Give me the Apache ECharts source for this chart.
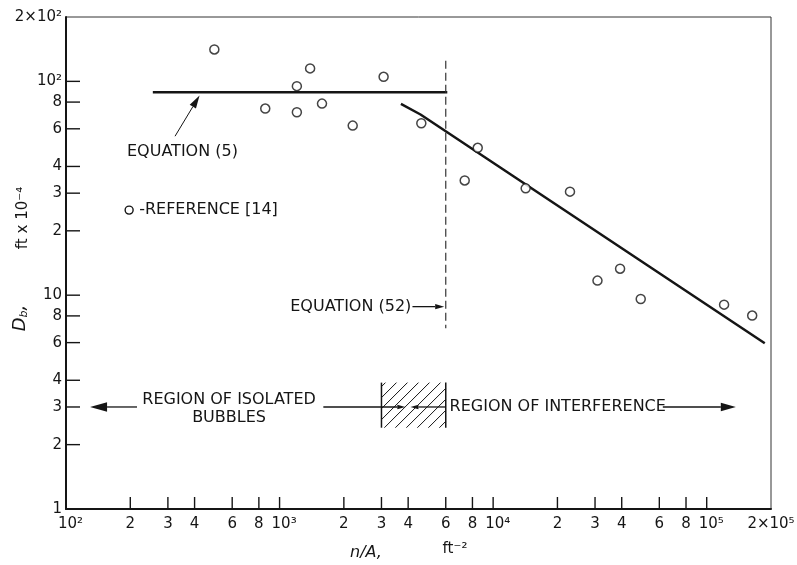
<!DOCTYPE html>
<html><head><meta charset="utf-8">
<script src="https://cdn.jsdelivr.net/npm/echarts@6/dist/echarts.min.js"></script>
<style>html,body{margin:0;padding:0;background:#fff}#c{width:797px;height:565px}</style>
</head><body><div id="c"></div>
<script>
// ---- data ----
const refX = [495, 1390, 1205, 3070, 857, 1205, 1580, 2200, 4610, 8470, 7360, 14200, 22900, 30800, 39300, 49100, 120600, 163300];
const refY = [141, 115, 95, 105, 74.6, 71.7, 78.7, 62.1, 63.7, 48.9, 34.4, 31.6, 30.5, 11.7, 13.3, 9.6, 9.03, 8.03];
const eq5X = [255, 6100];
const eq5Y = [88.9, 88.9];
const eq52X = [3700, 4570, 187000];
const eq52Y = [78.4, 70.0, 5.96];
const limitX = [6000, 6000];
const limitY = [125, 7];
const bandX = [3000, 6000];
const bandY = [2.4, 3.9];
const xTicks = [100, 200, 300, 400, 600, 800, 1000, 2000, 3000, 4000, 6000, 8000, 10000, 20000, 30000, 40000, 60000, 80000, 100000, 200000];
const xTickLabels = ['10²', '2', '3', '4', '6', '8', '10³', '2', '3', '4', '6', '8', '10⁴', '2', '3', '4', '6', '8', '10⁵', '2×10⁵'];
const yTicks = [1, 2, 3, 4, 6, 8, 10, 20, 30, 40, 60, 80, 100, 200];
const yTickLabels = ['1', '2', '3', '4', '6', '8', '10', '2', '3', '4', '6', '8', '10²', '2×10²'];
// annotation anchors (data space)
const noteText = ['EQUATION (5)', '-REFERENCE [14]', 'EQUATION (52)', 'REGION OF ISOLATED\nBUBBLES', 'REGION OF INTERFERENCE'];
const noteX = [193, 220, 1122, 580, 6250];
const noteY = [46.7, 25.0, 8.84, 2.94, 3.0];
const noteAlign = ['left', 'left', 'left', 'center', 'left'];
const arrowFrom = [[324, 55.4], [4190, 8.84], [215, 3], [1603, 3], [6000, 3], [62300, 3]];
const arrowTo = [[422, 85.8], [5900, 8.84], [129.6, 3], [3880, 3], [4100, 3], [136900, 3]];
const arrowHead = [13, 9, 17, 8, 8, 15];

const FONT = 'DejaVu Sans';
const INK = '#151515';
const xMin = 100, xMax = 200000, yMin = 1, yMax = 200;

const chart = echarts.init(document.getElementById('c'), null, {renderer: 'canvas'});

function zip(a, b) { return a.map((v, i) => [v, b[i]]); }

const option = {
  animation: false,
  backgroundColor: '#fff',
  grid: {left: 66, right: 26, top: 17, bottom: 56, show: true, borderColor: '#333', borderWidth: 1, backgroundColor: 'transparent'},
  xAxis: {type: 'log', logBase: 10, min: xMin, max: xMax,
    axisLine: {show: true, onZero: false, lineStyle: {color: INK, width: 2}},
    axisTick: {show: false}, axisLabel: {show: false}, splitLine: {show: false}, minorTick: {show: false}},
  yAxis: {type: 'log', logBase: 10, min: yMin, max: yMax,
    axisLine: {show: true, onZero: false, lineStyle: {color: INK, width: 2}},
    axisTick: {show: false}, axisLabel: {show: false}, splitLine: {show: false}, minorTick: {show: false}},
  series: [
    {type: 'line', data: zip(eq5X, eq5Y), symbol: 'none', lineStyle: {color: INK, width: 2.5}, z: 3},
    {type: 'line', data: zip(eq52X, eq52Y), symbol: 'none', lineStyle: {color: INK, width: 2.5}, z: 3},
    {type: 'line', data: zip(limitX, limitY), symbol: 'none', lineStyle: {color: '#333', width: 1.2, type: [8, 4]}, z: 3},
    {type: 'scatter', data: zip(refX, refY), symbol: 'circle', symbolSize: 9,
      itemStyle: {color: '#fff', borderColor: INK, borderWidth: 1.5}, z: 4},
    // hatched transition band
    {type: 'custom', silent: true, z: 2,
      data: [[bandX[0], bandY[0], bandX[1], bandY[1]]],
      renderItem: function (params, api) {
        const a = api.coord([api.value(0), api.value(1)]);
        const b = api.coord([api.value(2), api.value(3)]);
        const x0 = Math.min(a[0], b[0]), x1 = Math.max(a[0], b[0]);
        const y0 = Math.min(a[1], b[1]), y1 = Math.max(a[1], b[1]);
        const kids = [];
        const step = 11;
        for (let c = x0 + y0 + 4; c < x1 + y1; c += step) {
          const lo = Math.max(x0, c - y1), hi = Math.min(x1, c - y0);
          if (lo < hi) kids.push({type: 'line', shape: {x1: lo, y1: c - lo, x2: hi, y2: c - hi}, style: {stroke: INK, lineWidth: 1}});
        }
        kids.push({type: 'line', shape: {x1: x0, y1: y0, x2: x0, y2: y1}, style: {stroke: INK, lineWidth: 1.5}});
        kids.push({type: 'line', shape: {x1: x1, y1: y0, x2: x1, y2: y1}, style: {stroke: INK, lineWidth: 1.5}});
        return {type: 'group', children: kids};
      }},
    // arrows
    {type: 'custom', silent: true, z: 5,
      data: arrowFrom.map((f, i) => [f[0], f[1], arrowTo[i][0], arrowTo[i][1], i]),
      renderItem: function (params, api) {
        const i = params.dataIndex;
        const a = api.coord([api.value(0), api.value(1)]);
        const b = api.coord([api.value(2), api.value(3)]);
        const dx = b[0] - a[0], dy = b[1] - a[1];
        const L = Math.hypot(dx, dy) || 1;
        const ux = dx / L, uy = dy / L;
        const len = arrowHead[i], w = len * 0.28;
        const bx = b[0] - ux * len, by = b[1] - uy * len;
        return {type: 'group', children: [
          {type: 'line', shape: {x1: a[0], y1: a[1], x2: bx, y2: by}, style: {stroke: INK, lineWidth: i === 0 ? 1 : 1.3}},
          {type: 'polygon', shape: {points: [[b[0], b[1]], [bx - uy * w, by + ux * w], [bx + uy * w, by - ux * w]]}, style: {fill: INK}}
        ]};
      }},
    // annotation texts
    {type: 'custom', silent: true, z: 6,
      data: noteX.map((x, i) => [x, noteY[i], i]),
      renderItem: function (params, api) {
        const i = params.dataIndex;
        const p = api.coord([api.value(0), api.value(1)]);
        const kids = [{type: 'text', style: {text: noteText[i], x: p[0], y: p[1], align: noteAlign[i], verticalAlign: 'middle',
          fontFamily: FONT, fontSize: 16, lineHeight: 18, fill: INK}}];
        if (i === 1) kids.push({type: 'circle', shape: {cx: p[0] - 10, cy: p[1], r: 4}, style: {fill: '#fff', stroke: INK, lineWidth: 1.4}});
        return {type: 'group', children: kids};
      }},
    // x ticks & labels
    {type: 'custom', silent: true, z: 6,
      data: xTicks.map((v, i) => [v, yMin, i]),
      renderItem: function (params, api) {
        const i = params.dataIndex;
        const p = api.coord([api.value(0), yMin]);
        const kids = [];
        if (i > 0 && i < xTicks.length - 1) kids.push({type: 'line', shape: {x1: p[0], y1: p[1], x2: p[0], y2: p[1] - 12}, style: {stroke: INK, lineWidth: 1.4}});
        const lab = xTickLabels[i];
        const isPow = lab.indexOf('10') === 0;
        kids.push({type: 'text', style: {text: lab, x: isPow ? p[0] - 8 : p[0], y: p[1] + 8, align: isPow ? 'left' : 'center', verticalAlign: 'top',
          fontFamily: FONT, fontSize: 15, fill: INK}});
        return {type: 'group', children: kids};
      }},
    // y ticks & labels
    {type: 'custom', silent: true, z: 6,
      data: yTicks.map((v, i) => [xMin, v, i]),
      renderItem: function (params, api) {
        const i = params.dataIndex;
        const p = api.coord([xMin, api.value(1)]);
        const kids = [];
        if (i > 0 && i < yTicks.length - 1) kids.push({type: 'line', shape: {x1: p[0], y1: p[1], x2: p[0] + 14, y2: p[1]}, style: {stroke: INK, lineWidth: 1.4}});
        kids.push({type: 'text', style: {text: yTickLabels[i], x: p[0] - 4, y: p[1], align: 'right', verticalAlign: 'middle',
          fontFamily: FONT, fontSize: 15, fill: INK}});
        return {type: 'group', children: kids};
      }}
  ],
  graphic: [
    {type: 'text', x: 20, y: 318, rotation: Math.PI / 2,
      style: {text: '{d|D}{s|b}{d|,}', align: 'center', verticalAlign: 'middle', fill: INK,
        rich: {d: {fontFamily: FONT, fontSize: 18, fontStyle: 'italic', fill: INK}, s: {fontFamily: FONT, fontSize: 11, fontStyle: 'italic', fill: INK, padding: [8, 0, 0, 0]}}}},
    {type: 'text', x: 23, y: 218, rotation: Math.PI / 2,
      style: {text: 'ft x 10⁻⁴', align: 'center', verticalAlign: 'middle', fontFamily: FONT, fontSize: 15, fill: INK}},
    {type: 'text', x: 366, y: 553,
      style: {text: 'n/A,', align: 'center', verticalAlign: 'middle', fontFamily: FONT, fontSize: 16, fontStyle: 'italic', fill: INK}},
    {type: 'text', x: 455, y: 549,
      style: {text: 'ft⁻²', align: 'center', verticalAlign: 'middle', fontFamily: FONT, fontSize: 15, fill: INK}}
  ]
};
chart.setOption(option);
</script>
</body></html>
